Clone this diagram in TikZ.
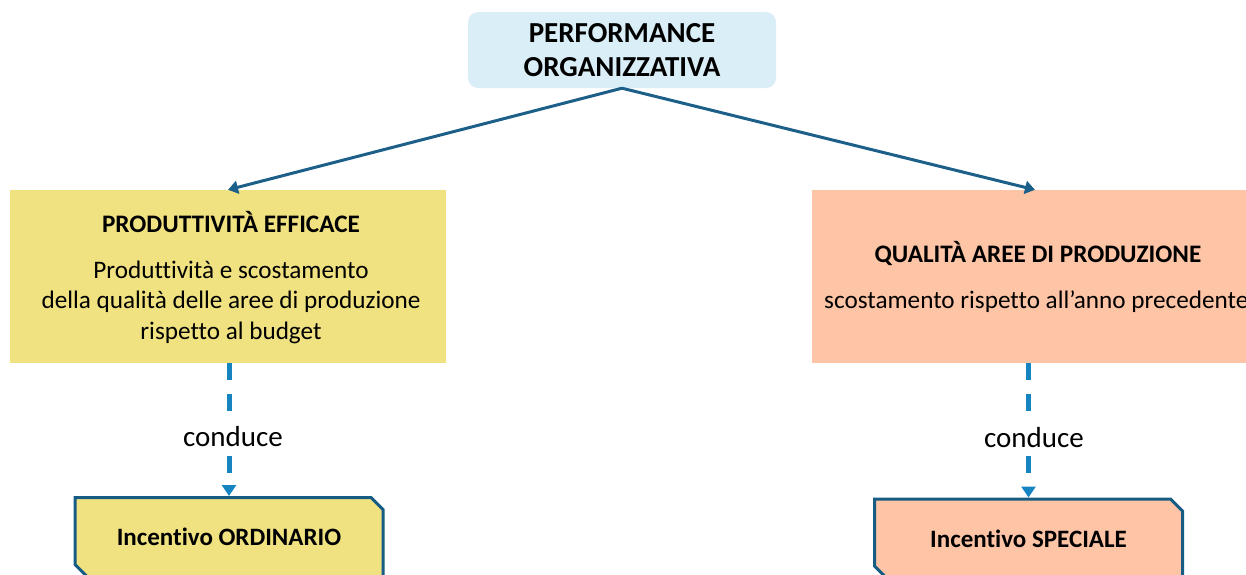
\documentclass[tikz,border=0pt]{standalone}
\usepackage{fontspec}
\setmainfont{Carlito}[Ligatures=NoCommon]
\usetikzlibrary{arrows.meta,shapes.misc}
\definecolor{topblue}{RGB}{218,238,247}
\definecolor{arrowblue}{RGB}{28,96,138}
\definecolor{dashblue}{RGB}{22,132,193}
\definecolor{boxyellow}{RGB}{240,226,128}
\definecolor{boxpeach}{RGB}{254,196,166}
\definecolor{botline}{RGB}{22,92,132}
\begin{document}
\begin{tikzpicture}[x=1pt,y=-1pt,
  topbox/.style={rounded corners=10pt, fill=topblue, minimum width=308pt, minimum height=76pt, inner sep=0pt, align=center, font=\fontsize{29}{34}\selectfont\bfseries},
  bigbox/.style={minimum height=173pt, inner sep=0pt},
  titletext/.style={font=\fontsize{25.2}{28}\selectfont\bfseries, inner sep=0pt},
  bodytext/.style={font=\fontsize{25.2}{30.5}\selectfont, align=center, inner sep=0pt},
  mainarrow/.style={draw=arrowblue, line width=3pt, -{Triangle[length=10pt,width=13pt]}},
  dasharrow/.style={draw=dashblue, line width=5pt, dash pattern=on 17pt off 14pt, -{Triangle[length=11pt,width=14pt]}},
  condlabel/.style={fill=white, font=\fontsize{29}{32}\selectfont, inner sep=6pt},
  botbox/.style={chamfered rectangle, chamfered rectangle corners={north east,south west}, chamfered rectangle xsep=15pt, draw=botline, line width=3pt, minimum width=308pt, minimum height=79pt, inner sep=0pt, font=\fontsize{25}{28}\selectfont\bfseries}
]
\path[use as bounding box] (0,0) rectangle (1246,574);

\node[topbox] (top) at (622,50) {PERFORMANCE\\ORGANIZZATIVA};

\node[bigbox, fill=boxyellow, minimum width=436pt] (left) at (228,276.5) {};
\node[titletext] (lt) at (231,222) {PRODUTTIVITÀ EFFICACE};
\node[bodytext] (lb) at (231,302) {Produttività e scostamento\\della qualità delle aree di produzione\\rispetto al budget};

\node[bigbox, fill=boxpeach, minimum width=446pt] (right) at (1035,276.5) {};
\node[titletext] (rt) at (1038,253) {QUALITÀ AREE DI PRODUZIONE};
\node[bodytext, anchor=west] (rb) at (824,302) {scostamento rispetto all’anno precedente};

\node[botbox, fill=boxyellow] (ord) at (229,537) {Incentivo ORDINARIO};
\node[botbox, fill=boxpeach] (spe) at (1028.5,538.5) {Incentivo SPECIALE};

\draw[mainarrow] (top.south) -- (left.north);
\draw[mainarrow] (top.south) -- (right.north);

\draw[dasharrow] (left.south -| ord.north) -- (ord.north);
\draw[dasharrow] (right.south -| spe.north) -- (spe.north);

\node[condlabel] (c1) at (233,437) {conduce};
\node[condlabel] (c2) at (1034,438) {conduce};
\end{tikzpicture}
\end{document}
